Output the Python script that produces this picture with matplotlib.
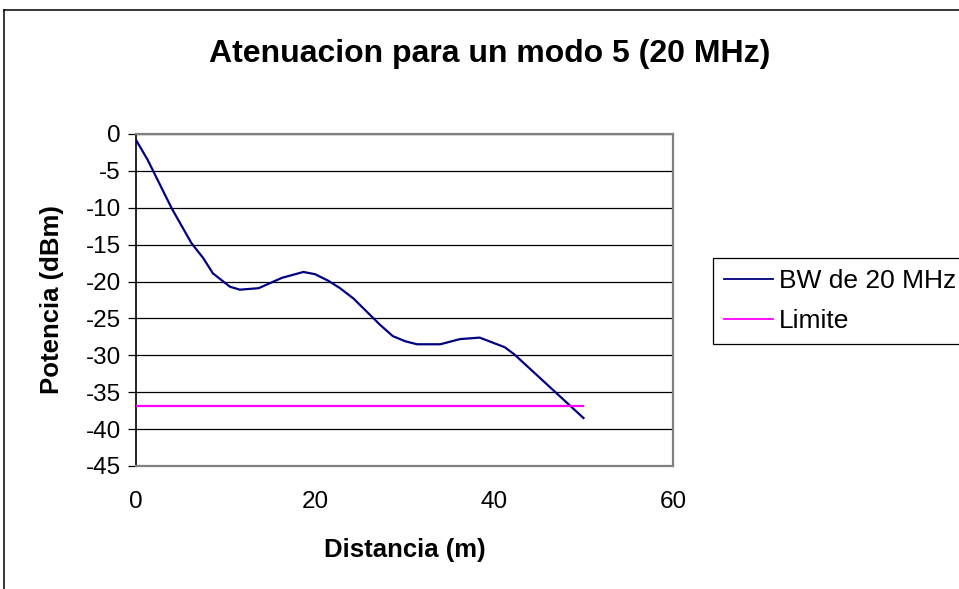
import matplotlib
matplotlib.use("Agg")
import matplotlib.pyplot as plt
from matplotlib.lines import Line2D

plt.rcParams['font.family'] = ['Liberation Sans', 'DejaVu Sans']
# Excel style hyphen for negative numbers
plt.rcParams['axes.unicode_minus'] = False

# ------------
# --- DATA ---
# ------------
distancia = [0, 1.3, 4.0, 6.2, 7.5, 8.6, 10.5, 11.6, 13.7, 16.3, 18.7, 20.0, 21.5, 22.8,
             24.3, 27.3, 28.7, 30.1, 31.4, 34.0, 36.2, 38.4, 41.2, 42.3, 50.0]
potencia = [-0.8, -3.5, -10.1, -14.8, -16.8, -18.9, -20.7, -21.1, -20.9, -19.5, -18.7, -19.0, -19.9, -20.9,
            -22.3, -25.9, -27.4, -28.1, -28.5, -28.5, -27.8, -27.6, -28.9, -29.9, -38.5]
limite_x = [0, 50]
limite_y = [-36.8, -36.8]

x_ticks = [0, 20, 40, 60]
y_ticks = [-45, -40, -35, -30, -25, -20, -15, -10, -5, 0]

W, H = 959, 589

# -------------
# --- CHART ---
# -------------
fig = plt.figure(figsize=(W / 100, H / 100), dpi=100)
fig.patch.set_facecolor('white')

# outer chart frame (only left and top edges are inside the picture)
fig.add_artist(Line2D([4 / W, 4 / W], [0, 1 - 10 / H], color='black', lw=1.1))
fig.add_artist(Line2D([4 / W, 1], [1 - 10 / H, 1 - 10 / H], color='black', lw=1.1))

ax = fig.add_axes([136 / W, 1 - 466 / H, (673 - 136) / W, (466 - 134) / H])

ax.plot(distancia, potencia, color='#000080', lw=1.6, label='BW de 20 MHz', zorder=3)
ax.plot(limite_x, limite_y, color='#FF00FF', lw=1.6, label='Limite', zorder=3)

ax.set_xlim(0, 60)
ax.set_ylim(-45, 0)
ax.set_xticks(x_ticks)
ax.set_yticks(y_ticks)
ax.grid(axis='y', color='black', lw=0.9, zorder=1)

ax.tick_params(axis='y', direction='out', length=5.5, width=0.9, pad=5.5, labelsize=17.5)
ax.tick_params(axis='x', length=0, pad=18, labelsize=17.5)

ax.spines['left'].set_color('black')
ax.spines['left'].set_linewidth(1.2)
for side in ['top', 'right', 'bottom']:
    ax.spines[side].set_color('#808080')
    ax.spines[side].set_linewidth(1.6)

# titles as figure text, placed like the original
fig.text(490 / W, 1 - 62 / H, "Atenuacion para un modo 5 (20 MHz)", fontsize=23,
         fontweight='bold', ha='center', va='baseline')
fig.text(404.5 / W, 1 - 557 / H, "Distancia (m)", fontsize=18.5, fontweight='bold',
         ha='center', va='baseline')
fig.text(59 / W, 1 - 300 / H, "Potencia (dBm)", fontsize=18.5, fontweight='bold',
         ha='center', va='baseline', rotation=90, rotation_mode='anchor')

leg = ax.legend(loc='upper left', bbox_to_anchor=(713 / W, 1 - 258 / H),
                bbox_transform=fig.transFigure, fontsize=19, frameon=True,
                fancybox=False, framealpha=1, edgecolor='black',
                handlelength=1.85, handletextpad=0.23, labelspacing=0.6,
                borderpad=0.42, borderaxespad=0)
leg.get_frame().set_linewidth(0.9)
for line in leg.get_lines():
    line.set_linewidth(1.3)

fig.savefig('out.png', dpi=100)
